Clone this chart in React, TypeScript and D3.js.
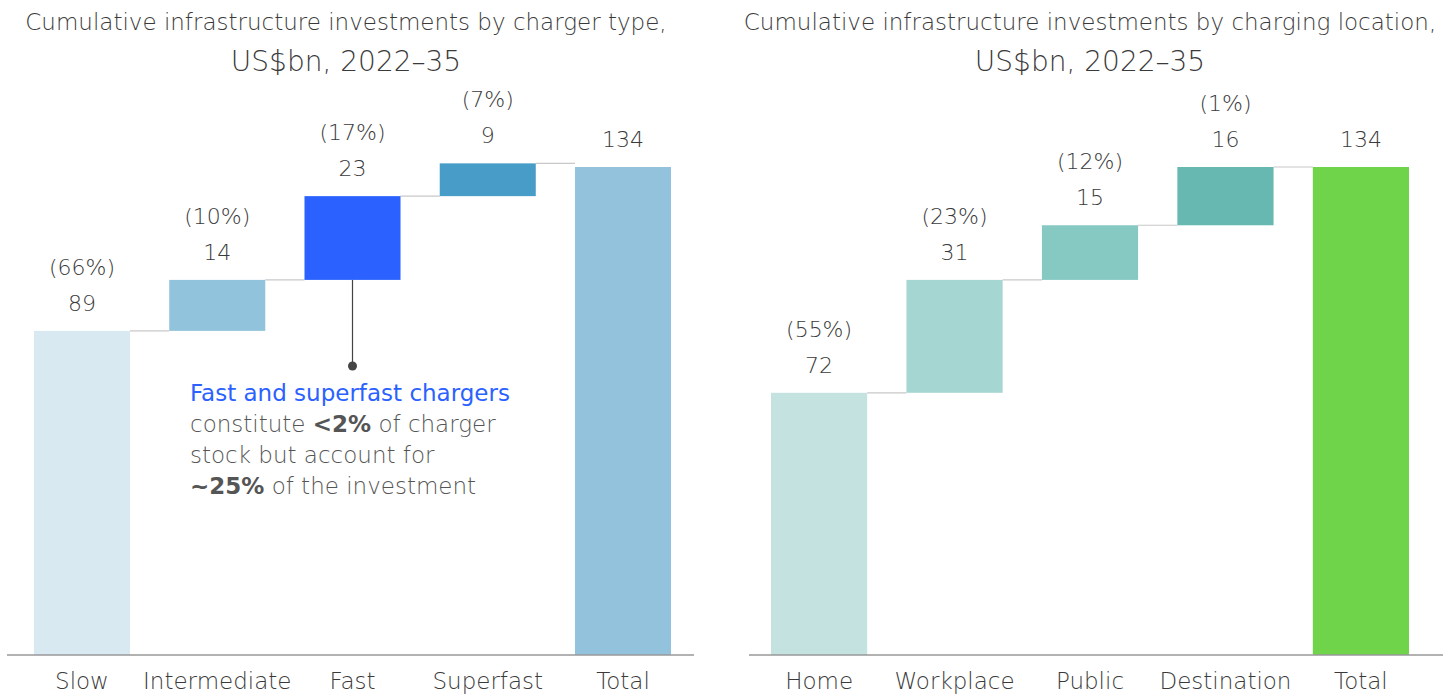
import React from "react";
import * as d3 from "d3";

const typeCategories = ["Slow", "Intermediate", "Fast", "Superfast", "Total"];
const typeValues = [89, 14, 23, 9, 134];
const typeShares = ["(66%)", "(10%)", "(17%)", "(7%)", ""];
const typeColors = ["#d9e9f2", "#92c3dc", "#2b61ff", "#479dc7", "#93c3dc"];

const locCategories = ["Home", "Workplace", "Public", "Destination", "Total"];
const locValues = [72, 31, 15, 16, 134];
const locShares = ["(55%)", "(23%)", "(12%)", "(1%)", ""];
const locColors = ["#c4e3e0", "#a5d6d1", "#85c9c2", "#66b8b1", "#70d44b"];

const W = 1452;
const H = 695;
const FONT = "'DejaVu Sans', 'Open Sans', sans-serif";
const TEXT = "#3a3a3a";

const y = d3.scaleLinear().domain([0, 134]).range([655, 167]);

type PanelProps = {
  cats: string[];
  vals: number[];
  shares: string[];
  colors: string[];
  x0: number;
  x1: number;
  axisL: number;
  axisR: number;
  title1: string;
  title2: string;
  titleX: number;
  annotate?: boolean;
};

function Panel(p: PanelProps) {
  const x = d3.scaleBand<string>().domain(p.cats).range([p.x0, p.x1]).paddingInner(0.29).paddingOuter(0);
  const bw = x.bandwidth();
  let cum = 0;
  const bars = p.vals.map((v, i) => {
    const isTotal = i === p.vals.length - 1;
    const start = isTotal ? 0 : cum;
    const end = isTotal ? v : cum + v;
    if (!isTotal) cum += v;
    return { cat: p.cats[i], v, start, end, color: p.colors[i], share: p.shares[i] };
  });
  const fast = bars[2];
  return (
    <g>
      <text x={p.titleX} y={30} textAnchor="middle" fontFamily={FONT} fontWeight={200} fontSize={23} fill={TEXT}>{p.title1}</text>
      <text x={p.titleX} y={71} textAnchor="middle" fontFamily={FONT} fontWeight={200} fontSize={28} fill={TEXT}>{p.title2}</text>
      {bars.slice(0, -1).map((b, i) => (
        <line key={"c" + i} x1={(x(b.cat) as number) + bw} x2={x(bars[i + 1].cat) as number} y1={y(b.end)} y2={y(b.end)} stroke="#c8c8c8" strokeWidth={1.2} />
      ))}
      {bars.map((b) => (
        <rect key={b.cat} x={x(b.cat)} y={y(b.end)} width={bw} height={y(b.start) - y(b.end)} fill={b.color} />
      ))}
      <line x1={p.axisL} x2={p.axisR} y1={y(0)} y2={y(0)} stroke="#999" strokeWidth={1.5} />
      {bars.map((b) => {
        const cx = (x(b.cat) as number) + bw / 2;
        const top = y(b.end);
        return (
          <g key={"l" + b.cat} fontFamily={FONT} fontWeight={200} fill={TEXT} textAnchor="middle">
            <text x={cx} y={top - 20} fontSize={22}>{b.v}</text>
            {b.share && <text x={cx} y={top - 56} fontSize={22}>{b.share}</text>}
            <text x={cx} y={689} fontSize={23}>{b.cat}</text>
          </g>
        );
      })}
      {p.annotate && (
        <g>
          <line x1={(x(fast.cat) as number) + bw / 2} x2={(x(fast.cat) as number) + bw / 2} y1={y(fast.start)} y2={366} stroke="#444" strokeWidth={1.2} />
          <circle cx={(x(fast.cat) as number) + bw / 2} cy={366} r={4.5} fill="#444" />
          <g fontFamily={FONT} fontSize={23} fill="#555" fontWeight={200}>
            <text x={190} y={401} fill="#2b61ff" fontWeight={400}>Fast and superfast chargers</text>
            <text x={190} y={432}>constitute <tspan fontWeight={700}>&lt;2%</tspan> of charger</text>
            <text x={190} y={463}>stock but account for</text>
            <text x={190} y={494}><tspan fontWeight={700}>~25%</tspan> of the investment</text>
          </g>
        </g>
      )}
    </g>
  );
}

export default function App() {
  return (
    <svg width={W} height={H} style={{ position: "absolute", left: 0, top: 0, background: "#fff" }}>
      <Panel cats={typeCategories} vals={typeValues} shares={typeShares} colors={typeColors}
        x0={34} x1={671} axisL={7} axisR={694}
        title1="Cumulative infrastructure investments by charger type," title2="US$bn, 2022–35" titleX={346} annotate />
      <Panel cats={locCategories} vals={locValues} shares={locShares} colors={locColors}
        x0={771} x1={1409} axisL={749} axisR={1443}
        title1="Cumulative infrastructure investments by charging location," title2="US$bn, 2022–35" titleX={1090} />
    </svg>
  );
}
